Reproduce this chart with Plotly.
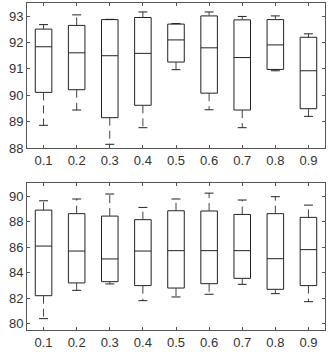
import plotly.graph_objects as go
from plotly.subplots import make_subplots

positions = [0.1, 0.2, 0.3, 0.4, 0.5, 0.6, 0.7, 0.8, 0.9]
tick_labels = ["0.1", "0.2", "0.3", "0.4", "0.5", "0.6", "0.7", "0.8", "0.9"]

# top panel
top_lower = [88.86, 89.44, 88.14, 88.77, 90.97, 89.45, 88.77, 90.93, 89.20]
top_q1 = [90.11, 90.21, 89.15, 89.62, 91.26, 90.08, 89.44, 90.98, 89.49]
top_median = [91.84, 91.61, 91.50, 91.59, 92.10, 91.80, 91.43, 91.91, 90.93]
top_q3 = [92.51, 92.65, 92.87, 92.95, 92.70, 93.01, 92.86, 92.87, 92.20]
top_upper = [92.68, 93.05, 92.88, 93.16, 92.72, 93.16, 92.99, 93.01, 92.33]

# bottom panel
bot_lower = [80.39, 82.61, 83.11, 81.80, 82.09, 82.30, 83.08, 82.35, 81.72]
bot_q1 = [82.19, 83.19, 83.29, 82.98, 82.79, 83.13, 83.55, 82.69, 82.98]
bot_median = [86.08, 85.69, 85.07, 85.69, 85.72, 85.72, 85.72, 85.09, 85.80]
bot_q3 = [88.90, 88.62, 88.43, 88.15, 88.85, 88.83, 88.56, 88.62, 88.33]
bot_upper = [89.63, 89.77, 90.16, 89.11, 89.77, 90.23, 89.69, 89.95, 89.29]

BOX_W = 0.05
CAP_HW = 0.0135
INK = "#222222"

fig = make_subplots(rows=2, cols=1, shared_xaxes=False)


def add_panel(row, lower, q1, med, q3, upper):
    fig.add_trace(go.Box(
        x=positions, q1=q1, median=med, q3=q3,
        lowerfence=q1, upperfence=q3,
        width=BOX_W, line=dict(color=INK, width=1),
        fillcolor="rgba(0,0,0,0)", whiskerwidth=0,
        boxpoints=False, showlegend=False, hoverinfo="skip",
    ), row=row, col=1)

    # dashed whiskers + solid caps, matlab style
    wx, wy, cx, cy = [], [], [], []
    for x, lo, a, b, hi in zip(positions, lower, q1, q3, upper):
        wx += [x, x, None, x, x, None]
        wy += [b, hi, None, a, lo, None]
        cx += [x - CAP_HW, x + CAP_HW, None, x - CAP_HW, x + CAP_HW, None]
        cy += [hi, hi, None, lo, lo, None]
    fig.add_trace(go.Scatter(
        x=wx, y=wy, mode="lines", showlegend=False, hoverinfo="skip",
        line=dict(color="#444444", width=1, dash="8px,5px"),
    ), row=row, col=1)
    fig.add_trace(go.Scatter(
        x=cx, y=cy, mode="lines", showlegend=False, hoverinfo="skip",
        line=dict(color=INK, width=1),
    ), row=row, col=1)


add_panel(1, top_lower, top_q1, top_median, top_q3, top_upper)
add_panel(2, bot_lower, bot_q1, bot_median, bot_q3, bot_upper)

axis_style = dict(
    showline=True, linecolor="#555555", linewidth=1, mirror="ticks",
    ticks="inside", ticklen=3, tickcolor="#555555", showgrid=False,
    zeroline=False, tickfont=dict(family="Liberation Sans, Arial", size=13, color="#333333"),
)

for r in (1, 2):
    fig.update_xaxes(axis_style, range=[0.05, 0.95], tickvals=positions,
                     ticktext=tick_labels, row=r, col=1)

fig.update_yaxes(axis_style, range=[88, 93.5], tickvals=[88, 89, 90, 91, 92, 93],
                 row=1, col=1)
fig.update_yaxes(axis_style, range=[79.5, 91], tickvals=[80, 82, 84, 86, 88, 90],
                 row=2, col=1)

fig.update_layout(
    width=332, height=353,
    margin=dict(l=27, r=7, t=3, b=23),
    plot_bgcolor="white", paper_bgcolor="white",
    yaxis=dict(domain=[0.5566, 1.0]),
    yaxis2=dict(domain=[0.0, 0.4486]),
    xaxis=dict(domain=[0, 1]), xaxis2=dict(domain=[0, 1]),
)

fig.write_html("out.html", config={"displayModeBar": False},
               post_script="document.body.style.margin='0';")
